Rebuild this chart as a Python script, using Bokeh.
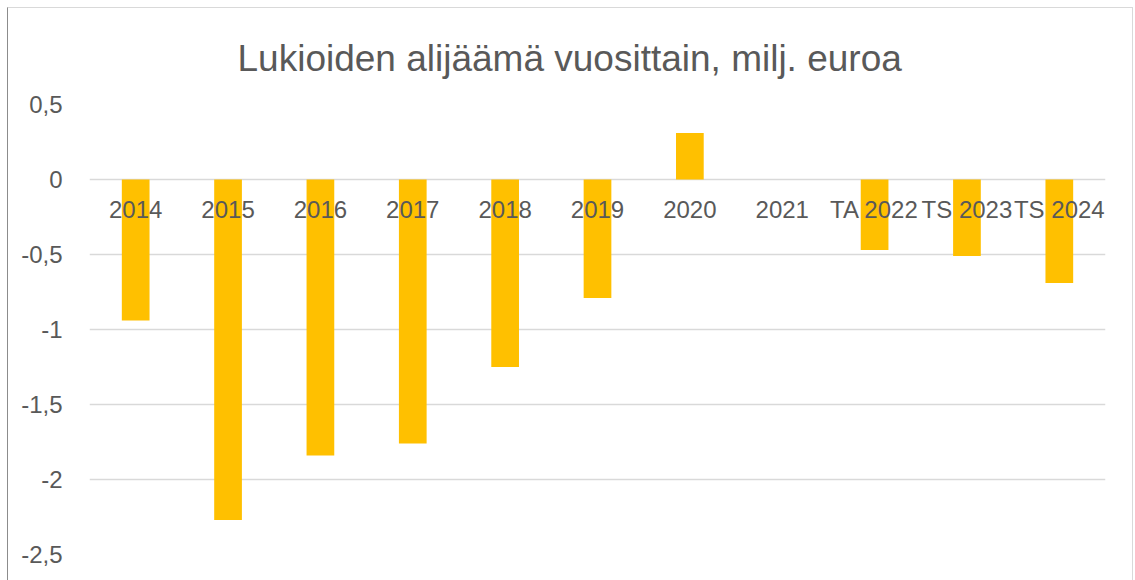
from bokeh.plotting import figure
from bokeh.models import ColumnDataSource, Range1d, FixedTicker, CustomJSTickFormatter, Title
from bokeh.core.properties import value
from bokeh.embed import file_html
from bokeh.resources import INLINE

categories = ["2014", "2015", "2016", "2017", "2018", "2019", "2020", "2021", "TA 2022", "TS 2023", "TS 2024"]
values = [-0.94, -2.27, -1.84, -1.76, -1.25, -0.79, 0.31, 0.0, -0.47, -0.51, -0.69]
y_ticks = [-2.5, -2.0, -1.5, -1.0, -0.5, 0.0, 0.5]
title_text = "Lukioiden alijäämä vuosittain, milj. euroa"

FONT = "Liberation Sans"
GREY = "#595959"

src = ColumnDataSource(dict(cat=categories, val=values, zero=[0.0] * len(categories)))

p = figure(x_range=categories, y_range=Range1d(-2.5, 0.5), width=1126, height=573,
           output_backend="svg", toolbar_location=None,
           min_border_left=81, min_border_right=29, min_border_top=96, min_border_bottom=27)
p.margin = (7, 0, 0, 7)
p.styles = {"border-left": "1px solid #8c8c8c", "border-top": "1px solid #d9d9d9",
            "border-right": "1px solid #d9d9d9"}
p.outline_line_color = None
p.background_fill_color = "white"
p.border_fill_color = "white"

p.vbar(x="cat", top="val", width=0.3, source=src, fill_color="#FFC000", line_color=None)

p.text(x="cat", y="zero", text="cat", source=src, y_offset=30, text_align="center",
       text_baseline="middle", text_font=value(FONT), text_font_size="24px", text_color=GREY)

p.xaxis.visible = False
p.xgrid.grid_line_color = None
p.ygrid.grid_line_color = "#d9d9d9"
p.ygrid.grid_line_width = 1.5
p.ygrid.ticker = FixedTicker(ticks=y_ticks)

ax = p.yaxis[0]
ax.ticker = FixedTicker(ticks=y_ticks)
ax.formatter = CustomJSTickFormatter(code="return tick.toString().replace('.', ',');")
ax.axis_line_color = None
ax.major_tick_line_color = None
ax.minor_tick_line_color = None
ax.major_label_text_font = FONT
ax.major_label_text_font_size = "24px"
ax.major_label_text_color = GREY
ax.major_label_standoff = 21

p.add_layout(Title(text=title_text, align="left", offset=148, standoff=52,
                   text_font=FONT, text_font_size="37px", text_font_style="normal",
                   text_color=GREY), "above")

open("out.html", "w").write(file_html(p, INLINE))
